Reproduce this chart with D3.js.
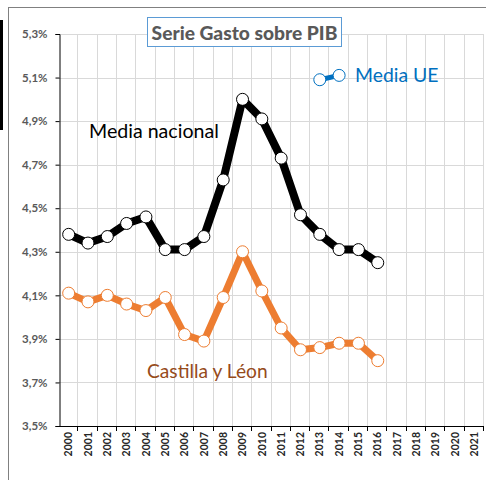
<!DOCTYPE html>
<html>
<head>
<meta charset="utf-8">
<script src="https://cdn.jsdelivr.net/npm/d3@7"></script>
<style>
  body { margin: 0; background: #fff; }
  svg { display: block; font-family: Lato, "Open Sans", sans-serif; }
</style>
</head>
<body>
<div id="chart"></div>
<script>
// Data
const years = d3.range(2000, 2022);
const yTicks = [3.5, 3.7, 3.9, 4.1, 4.3, 4.5, 4.7, 4.9, 5.1, 5.3];

const mediaNacional = [4.38, 4.34, 4.37, 4.43, 4.46, 4.31, 4.31, 4.37, 4.63, 5.00,
                       4.91, 4.73, 4.47, 4.38, 4.31, 4.31, 4.25];
const castillaLeon = [4.11, 4.07, 4.10, 4.06, 4.03, 4.09, 3.92, 3.89, 4.09, 4.30,
                      4.12, 3.95, 3.85, 3.86, 3.88, 3.88, 3.80];
const mediaUE = [{ year: 2013, v: 5.09 }, { year: 2014, v: 5.11 }];

const width = 486, height = 480;
const plotLeft = 59, plotRight = 484, plotTop = 34, plotBottom = 426;

const svg = d3.select('#chart')
    .append('svg')
    .attr('width', width)
    .attr('height', height);

// outer frame bits
svg.append('rect').attr('x', 0).attr('y', 20).attr('width', 3).attr('height', 110).attr('fill', '#000');
svg.append('line').attr('x1', 8.5).attr('x2', 8.5).attr('y1', 7.5).attr('y2', height)
    .attr('stroke', '#808080');
svg.append('line').attr('x1', 8).attr('x2', width).attr('y1', 7.5).attr('y2', 7.5)
    .attr('stroke', '#808080');

const x = d3.scaleBand().domain(years).range([plotLeft, plotRight]);
const y = d3.scaleLinear().domain([3.5, 5.3]).range([plotBottom, plotTop]);
const bw = x.bandwidth();
const cx = yr => x(yr) + bw / 2;

// grid
const grid = svg.append('g').attr('stroke', '#d9d9d9').attr('stroke-width', 1);
grid.selectAll('.h').data(yTicks.slice(1)).enter().append('line')
    .attr('x1', plotLeft).attr('x2', plotRight)
    .attr('y1', d => Math.round(y(d)) + 0.5).attr('y2', d => Math.round(y(d)) + 0.5);
grid.selectAll('.v').data(years.slice(1).concat([null])).enter().append('line')
    .attr('x1', d => Math.round(d === null ? plotRight : x(d)) - 0.5)
    .attr('x2', d => Math.round(d === null ? plotRight : x(d)) - 0.5)
    .attr('y1', plotTop).attr('y2', plotBottom);

// y axis
const yAxis = svg.append('g')
    .attr('transform', `translate(${plotLeft + 0.5},0)`)
    .call(d3.axisLeft(y).tickValues(yTicks).tickSize(4).tickPadding(8)
        .tickFormat(d => d.toFixed(1).replace('.', ',') + '%'));
yAxis.select('.domain').attr('stroke', '#000');
yAxis.selectAll('.tick line').attr('stroke', '#000');
yAxis.selectAll('text')
    .attr('fill', '#595959')
    .style('font-size', '11.5px')
    .style('font-weight', 'bold')
    .style('font-family', 'Lato, sans-serif');

// x axis (ticks on category boundaries, like Excel)
const xAxis = svg.append('g');
xAxis.append('line').attr('x1', plotLeft).attr('x2', plotRight)
    .attr('y1', plotBottom + 0.5).attr('y2', plotBottom + 0.5).attr('stroke', '#000');
xAxis.selectAll('.tk').data(years.slice(1).concat([null])).enter().append('line')
    .attr('x1', d => Math.round(d === null ? plotRight : x(d)) - 0.5)
    .attr('x2', d => Math.round(d === null ? plotRight : x(d)) - 0.5)
    .attr('y1', plotBottom).attr('y2', plotBottom + 5)
    .attr('stroke', '#000');
xAxis.selectAll('text').data(years).enter().append('text')
    .attr('transform', d => `translate(${cx(d)},${plotBottom + 6}) rotate(-90)`)
    .attr('dy', '0.35em')
    .attr('text-anchor', 'end')
    .attr('fill', '#262626')
    .style('font-size', '10.5px')
    .style('font-weight', 'bold')
    .text(d => d);

// series
function drawSeries(values, color, lineWidth) {
    const line = d3.line().x(d => cx(d.year)).y(d => y(d.v));
    svg.append('path')
        .datum(values)
        .attr('d', line)
        .attr('fill', 'none')
        .attr('stroke', color)
        .attr('stroke-width', lineWidth)
        .attr('stroke-linejoin', 'round');
    svg.append('g').selectAll('circle')
        .data(values).enter().append('circle')
        .attr('cx', d => cx(d.year))
        .attr('cy', d => y(d.v))
        .attr('r', 6)
        .attr('fill', '#fff')
        .attr('stroke', color)
        .attr('stroke-width', 1);
}
const toPts = arr => arr.map((v, i) => ({ year: years[i], v }));
drawSeries(toPts(castillaLeon), '#ed7d31', 7);
drawSeries(toPts(mediaNacional), '#000', 8);
drawSeries(mediaUE, '#0070c0', 5);

// series labels
svg.append('text').attr('x', 89).attr('y', 138)
    .attr('fill', '#000').style('font-size', '19.6px').text('Media nacional');
svg.append('text').attr('x', 147).attr('y', 378)
    .attr('fill', '#964b1a').style('font-size', '19.2px').text('Castilla y Léon');
svg.append('text').attr('x', 355).attr('y', 82)
    .attr('fill', '#0070c0').style('font-size', '19.4px').text('Media UE');

// title box
svg.append('rect').attr('x', 147.5).attr('y', 17.5).attr('width', 194).attr('height', 29)
    .attr('fill', '#fff').attr('stroke', '#5b9bd5');
svg.append('text').attr('x', 244.5).attr('y', 39.5)
    .attr('text-anchor', 'middle')
    .attr('fill', '#595959')
    .style('font-size', '19.2px')
    .style('font-weight', '900')
    .text('Serie Gasto sobre PIB');
</script>
</body>
</html>
